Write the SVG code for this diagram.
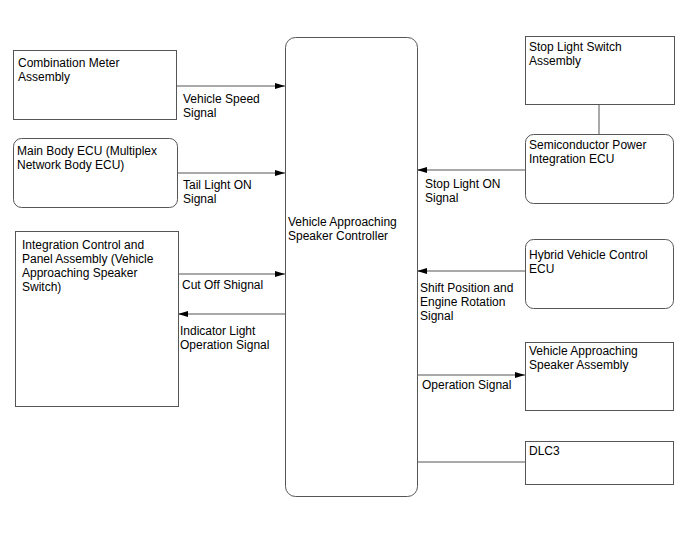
<svg xmlns="http://www.w3.org/2000/svg" width="688" height="560" viewBox="0 0 688 560">
<defs>
<marker id="ah" viewBox="0 0 10 6" refX="10" refY="3" markerWidth="10" markerHeight="6" markerUnits="userSpaceOnUse" orient="auto">
<path d="M0,0 L10,3 L0,6 Z" fill="#000"/>
</marker>
<style>
.box{fill:#fff;stroke:#555;stroke-width:1}
.ln{stroke:#555;stroke-width:1;fill:none}
.t{font-family:"Liberation Sans",Arial,sans-serif;font-size:12px;fill:#000}
</style>
</defs>
<rect width="688" height="560" fill="#fff"/>
<g id="connectors">
<line class="ln" x1="177" y1="86" x2="285" y2="86" marker-end="url(#ah)"/>
<line class="ln" x1="177" y1="173" x2="285" y2="173" marker-end="url(#ah)"/>
<line class="ln" x1="178" y1="274" x2="285" y2="274" marker-end="url(#ah)"/>
<line class="ln" x1="285" y1="314" x2="178" y2="314" marker-end="url(#ah)"/>
<line class="ln" x1="525" y1="170" x2="417" y2="170" marker-end="url(#ah)"/>
<line class="ln" x1="525" y1="271" x2="417" y2="271" marker-end="url(#ah)"/>
<line class="ln" x1="417" y1="375" x2="525" y2="375" marker-end="url(#ah)"/>
<line class="ln" x1="417" y1="462" x2="525" y2="462"/>
<line class="ln" x1="599" y1="104" x2="599" y2="135"/>
<text class="t" x="183" y="103">Vehicle Speed</text>
<text class="t" x="183" y="117">Signal</text>
<text class="t" x="183" y="189">Tail Light ON</text>
<text class="t" x="183" y="203">Signal</text>
<text class="t" x="182" y="289">Cut Off Shignal</text>
<text class="t" x="180" y="335">Indicator Light</text>
<text class="t" x="180" y="349">Operation Signal</text>
<text class="t" x="425" y="188">Stop Light ON</text>
<text class="t" x="425" y="202">Signal</text>
<text class="t" x="420" y="292">Shift Position and</text>
<text class="t" x="420" y="306">Engine Rotation</text>
<text class="t" x="420" y="320">Signal</text>
<text class="t" x="422" y="389">Operation Signal</text>
</g>
<g id="combination-meter">
<rect class="box" x="13.5" y="50.5" width="163" height="69"/>
<text class="t" x="18" y="67">Combination Meter</text>
<text class="t" x="18" y="81">Assembly</text>
</g>
<g id="main-body-ecu">
<rect class="box" x="13.5" y="138.5" width="164" height="69" rx="8"/>
<text class="t" x="17" y="155">Main Body ECU (Multiplex</text>
<text class="t" x="17" y="169">Network Body ECU)</text>
</g>
<g id="integration-control">
<rect class="box" x="15.5" y="231.5" width="163" height="175"/>
<text class="t" x="22" y="249">Integration Control and</text>
<text class="t" x="22" y="263">Panel Assembly (Vehicle</text>
<text class="t" x="22" y="277">Approaching Speaker</text>
<text class="t" x="22" y="291">Switch)</text>
</g>
<g id="controller">
<rect class="box" x="285.5" y="37.5" width="132" height="459" rx="10"/>
<text class="t" x="288" y="226">Vehicle Approaching</text>
<text class="t" x="288" y="240">Speaker Controller</text>
</g>
<g id="stop-light-switch">
<rect class="box" x="525.5" y="36.5" width="149" height="68"/>
<text class="t" x="529" y="51">Stop Light Switch</text>
<text class="t" x="529" y="65">Assembly</text>
</g>
<g id="semiconductor-ecu">
<rect class="box" x="525.5" y="134.5" width="148" height="69" rx="8"/>
<text class="t" x="529" y="149">Semiconductor Power</text>
<text class="t" x="529" y="163">Integration ECU</text>
</g>
<g id="hybrid-ecu">
<rect class="box" x="525.5" y="239.5" width="148" height="69" rx="8"/>
<text class="t" x="529" y="259">Hybrid Vehicle Control</text>
<text class="t" x="529" y="273">ECU</text>
</g>
<g id="speaker-assembly">
<rect class="box" x="525.5" y="342.5" width="148" height="68"/>
<text class="t" x="529" y="355">Vehicle Approaching</text>
<text class="t" x="529" y="369">Speaker Assembly</text>
</g>
<g id="dlc3">
<rect class="box" x="525.5" y="441.5" width="148" height="43"/>
<text class="t" x="529" y="455">DLC3</text>
</g>
</svg>
